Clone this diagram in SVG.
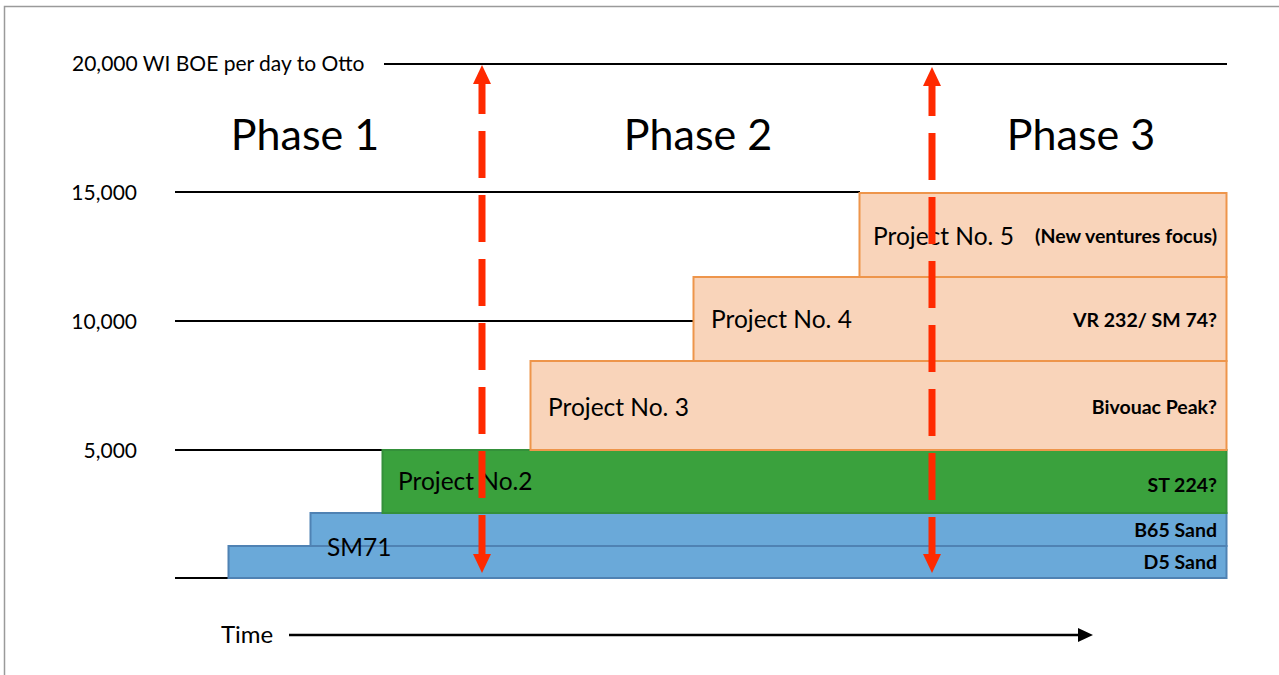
<svg xmlns="http://www.w3.org/2000/svg" width="1279" height="675" viewBox="0 0 1279 675">
<defs>
<style>
text{font-family:Lato,"Open Sans","Liberation Sans",sans-serif;fill:#000}
.axis{font-size:21px}
.phase{font-size:43px;text-anchor:middle}
.proj{font-size:24.5px}
.note{font-size:19.5px;font-weight:bold;text-anchor:end}
.grid{stroke:#000;stroke-width:2;fill:none}
.blue{fill:#6aa9d9;stroke:#4f82b3;stroke-width:2}
.green{fill:#3aa13d;stroke:#34903a;stroke-width:2}
.peach{fill:#f9d4ba;stroke:#ee954b;stroke-width:2}
.red{stroke:#ff2a00;stroke-width:7;fill:none;stroke-dasharray:47 17;stroke-dashoffset:17}
</style>
<marker id="rh" markerUnits="userSpaceOnUse" markerWidth="20" markerHeight="20" viewBox="0 0 20 20" refX="0" refY="10" orient="auto-start-reverse">
<path d="M0,1 L19,10 L0,19 Z" fill="#ff2a00"/>
</marker>
<marker id="bh" markerUnits="userSpaceOnUse" markerWidth="16" markerHeight="14" viewBox="0 0 16 14" refX="0" refY="7" orient="auto">
<path d="M0,0 L15,7 L0,14 Z" fill="#000"/>
</marker>
</defs>
<rect width="1279" height="675" fill="#fff"/>
<path d="M4.5,680 V6.5 H1285" fill="none" stroke="#9a9a9a" stroke-width="1.5"/>

<g id="axis">
<line class="grid" x1="384" y1="64" x2="1227" y2="64"/>
<line class="grid" x1="175" y1="192" x2="860" y2="192"/>
<line class="grid" x1="175" y1="321" x2="694" y2="321"/>
<line class="grid" x1="175" y1="450" x2="531" y2="450"/>
<line class="grid" x1="175" y1="578" x2="229" y2="578"/>
<text class="axis" x="72" y="71">20,000 WI BOE per day to Otto</text>
<text class="axis" x="137" y="200" text-anchor="end">15,000</text>
<text class="axis" x="137" y="329" text-anchor="end">10,000</text>
<text class="axis" x="137" y="458" text-anchor="end">5,000</text>
</g>

<g id="phases">
<text class="phase" x="305" y="150">Phase 1</text>
<text class="phase" x="698" y="150">Phase 2</text>
<text class="phase" x="1081" y="150">Phase 3</text>
</g>

<g id="d5">
<rect class="blue" x="228.5" y="546" width="998" height="32"/>
<text class="note" x="1217" y="569">D5 Sand</text>
</g>
<g id="b65">
<rect class="blue" x="310.5" y="513" width="916" height="33"/>
<text class="note" x="1217" y="537">B65 Sand</text>
</g>
<text class="proj" x="327" y="556" id="sm71">SM71</text>
<g id="project2">
<rect class="green" x="382.5" y="450" width="844" height="63"/>
<text class="proj" x="398" y="490">Project No.2</text>
<text class="note" x="1217" y="492">ST 224?</text>
</g>
<g id="project3">
<rect class="peach" x="530.5" y="361" width="696" height="89"/>
<text class="proj" x="548" y="416">Project No. 3</text>
<text class="note" x="1217" y="414">Bivouac Peak?</text>
</g>
<g id="project4">
<rect class="peach" x="693.5" y="277" width="533" height="84"/>
<text class="proj" x="711" y="328">Project No. 4</text>
<text class="note" x="1217" y="327">VR 232/ SM 74?</text>
</g>
<g id="project5">
<rect class="peach" x="859.5" y="193" width="367" height="84"/>
<text class="proj" x="873" y="245">Project No. 5</text>
<text class="note" x="1217" y="243">(New ventures focus)</text>
</g>

<g id="connectors">
<line class="red" x1="482" y1="84" x2="482" y2="554" marker-start="url(#rh)" marker-end="url(#rh)"/>
<line class="red" x1="932" y1="86" x2="932" y2="554" marker-start="url(#rh)" marker-end="url(#rh)"/>
<line x1="289" y1="635" x2="1078" y2="635" stroke="#000" stroke-width="2.5" marker-end="url(#bh)"/>
</g>
<text x="221" y="643" style="font-size:24px">Time</text>
</svg>
